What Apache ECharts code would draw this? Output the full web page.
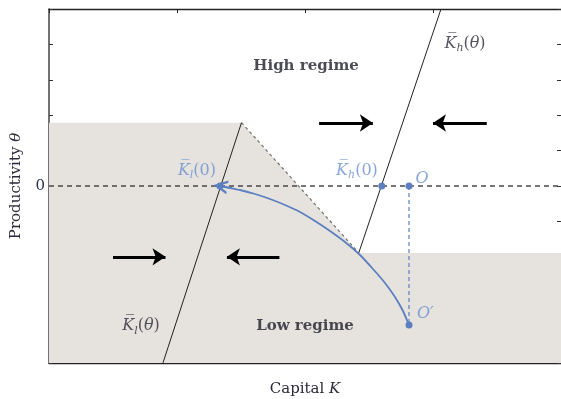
<!DOCTYPE html>
<html><head><meta charset="utf-8">
<script src="https://cdn.jsdelivr.net/npm/echarts@6/dist/echarts.min.js"></script>
<style>html,body{margin:0;padding:0;background:#fff}#c{width:561px;height:399px}</style>
</head><body><div id="c"></div>
<script>
// ---- data (data coordinates: x = capital, y = productivity) ----
const xTicks = [0, 1, 2, 3, 4];
const yTicks = [-5, -4, -3, -2, -1, 0, 1, 2, 3, 4, 5];
const shadeBoundary = [[0, 1.79], [1.504, 1.79], [2.42, -1.89], [4, -1.89]];
const regimeSwitchEdge = [[1.504, 1.79], [2.42, -1.89]];
const KlTheta = [[0.89, -5], [1.504, 1.79]];
const KhTheta = [[2.42, -1.89], [3.0625, 5]];
const zeroLine = [[0, 0], [4, 0]];
const dropLine = [[2.8125, 0], [2.8125, -3.93]];
const pathCurve = [[2.8125, -3.927], [2.7656, -3.531], [2.7031, -3.136], [2.625, -2.74], [2.5313, -2.345],
  [2.4297, -1.949], [2.3125, -1.582], [2.1953, -1.271], [2.0781, -0.989], [1.9609, -0.734], [1.8438, -0.537],
  [1.7266, -0.367], [1.6094, -0.226], [1.4922, -0.113], [1.3984, -0.045], [1.345, -0.01]];
const curveHead = [[1.43, -0.06], [1.34, -0.005]];
const flowArrows = [
  [[0.5, -2.0], [0.91, -2.0]],
  [[1.80, -2.0], [1.39, -2.0]],
  [[2.11, 1.78], [2.53, 1.78]],
  [[3.42, 1.78], [3.0, 1.78]]
];
const keyPoints = [[1.336, 0], [2.60, 0], [2.8125, 0], [2.8125, -3.93]];
const labelNames = ['Kl0', 'Kh0', 'O', 'Op', 'KhT', 'KlT', 'High', 'Low'];
const labelPos = [[1.156, 0.43], [2.406, 0.43], [2.914, 0.2], [2.94, -3.62], [3.25, 4.01], [0.719, -3.96], [2.008, 3.39], [2.0, -3.96]];
const labelText = [
  '{k|K\u0305}{s|l}{p|(0)}',
  '{k|K\u0305}{s|h}{p|(0)}',
  '{k|O}',
  '{k|O\u2032}',
  '{dk|K\u0305}{ds|h}{dp|(}{dk|θ}{dp|)}',
  '{dk|K\u0305}{ds|l}{dp|(}{dk|θ}{dp|)}',
  '{b|High regime}',
  '{b|Low regime}'
];

const blue = '#5b7fc0';
const lblue = '#6a8fd0';
const dark = '#2b2b38';
const serif = 'DejaVu Serif';
const rich = {
  k: {fontFamily: serif, fontStyle: 'italic', fontSize: 16, color: lblue, lineHeight: 20},
  s: {fontFamily: serif, fontStyle: 'italic', fontSize: 11, color: lblue, lineHeight: 11, padding: [9, 0, 0, 0]},
  p: {fontFamily: serif, fontSize: 16, color: lblue, lineHeight: 20},
  dk: {fontFamily: serif, fontStyle: 'italic', fontSize: 16, color: dark, lineHeight: 20},
  ds: {fontFamily: serif, fontStyle: 'italic', fontSize: 11, color: dark, lineHeight: 11, padding: [9, 0, 0, 0]},
  dp: {fontFamily: serif, fontSize: 16, color: dark, lineHeight: 20},
  b: {fontFamily: serif, fontWeight: 'bold', fontSize: 15, color: '#1e1e2a'}
};

const chevron = 'path://M0,10 L5,0 L10,10 L8.2,10 L5,3.6 L1.8,10 Z';

const chart = echarts.init(document.getElementById('c'), null, {renderer: 'canvas'});
const axisBase = {
  type: 'value', min: xTicks[0], max: xTicks[xTicks.length - 1], interval: 1,
  axisLine: {show: true, onZero: false, lineStyle: {color: '#222', width: 1.3}},
  axisTick: {show: true, inside: true, length: 4, lineStyle: {color: '#222', width: 1}},
  axisLabel: {show: false}, splitLine: {show: false}
};
chart.setOption({
  animation: false,
  backgroundColor: '#fff',
  grid: {left: 49, top: 9, right: 0, bottom: 36, containLabel: false, outerBoundsMode: 'none'},
  xAxis: [
    Object.assign({}, axisBase, {
      position: 'bottom',
      name: '{a|Capital }{i|K}', nameLocation: 'middle', nameGap: 19,
      nameTextStyle: {rich: {a: {fontFamily: serif, fontSize: 15, color: '#2a2a38'}, i: {fontFamily: serif, fontStyle: 'italic', fontSize: 15, color: '#2a2a38'}}}
    }),
    Object.assign({}, axisBase, {position: 'top'})
  ],
  yAxis: [
    {
      type: 'value', min: yTicks[0], max: yTicks[yTicks.length - 1], interval: 1, position: 'left',
      axisLine: {show: true, onZero: false, lineStyle: {color: '#444', width: 1.5}},
      axisTick: {show: true, inside: true, length: 4, lineStyle: {color: '#333'}},
      axisLabel: {show: true, margin: 4, formatter: v => (v === 0 ? '0' : ''), fontFamily: serif, fontSize: 15, color: '#2a3050'},
      splitLine: {show: false},
      name: '{a|Productivity }{i|θ}', nameLocation: 'middle', nameRotate: 90, nameGap: 25,
      nameTextStyle: {rich: {a: {fontFamily: serif, fontSize: 15, color: '#2a2a38'}, i: {fontFamily: serif, fontStyle: 'italic', fontSize: 15, color: '#2a2a38'}}}
    },
    {
      type: 'value', min: yTicks[0], max: yTicks[yTicks.length - 1], interval: 1, position: 'right',
      axisLine: {show: false, onZero: false},
      axisTick: {show: true, inside: true, length: 4, lineStyle: {color: '#333'}},
      axisLabel: {show: false}, splitLine: {show: false}
    }
  ],
  series: [
    {type: 'line', data: shadeBoundary, symbol: 'none', lineStyle: {width: 0}, areaStyle: {color: '#e6e3de', opacity: 1, origin: 'start'}, z: 1, silent: true},
    {type: 'line', data: regimeSwitchEdge, symbol: 'none', lineStyle: {color: '#6e6e6e', width: 1.2, type: [3, 3]}, z: 2},
    {type: 'line', data: KlTheta, symbol: 'none', lineStyle: {color: '#222', width: 1}, z: 3},
    {type: 'line', data: KhTheta, symbol: 'none', lineStyle: {color: '#222', width: 1}, z: 3},
    {type: 'line', data: zeroLine, symbol: 'none', lineStyle: {color: '#4a4a4a', width: 1.5, type: [5, 4]}, z: 3},
    {type: 'line', data: dropLine, symbol: 'none', lineStyle: {color: blue, width: 1.2, type: [4, 3]}, z: 3},
    {type: 'line', data: pathCurve, symbol: 'none', smooth: 0.2, lineStyle: {color: blue, width: 1.8}, z: 4},
    {type: 'lines', coordinateSystem: 'cartesian2d', data: [{coords: curveHead}],
      symbol: ['none', chevron], symbolSize: [14, 14], lineStyle: {color: blue, width: 1.8, opacity: 1, curveness: 0}, z: 5},
    {type: 'lines', coordinateSystem: 'cartesian2d', data: flowArrows.map(c => ({coords: c})),
      symbol: ['none', 'arrow'], symbolSize: [10, 13], lineStyle: {color: '#000', width: 3, opacity: 1}, itemStyle: {color: '#000'}, z: 5},
    {type: 'scatter', data: keyPoints, symbolSize: 7, itemStyle: {color: blue, opacity: 1}, z: 6},
    {type: 'scatter', symbolSize: 0, z: 7,
      data: labelNames.map((n, i) => ({name: n, value: labelPos[i], label: {formatter: labelText[i]}})),
      label: {show: true, position: 'inside', rich: rich}}
  ]
});
</script></body></html>
